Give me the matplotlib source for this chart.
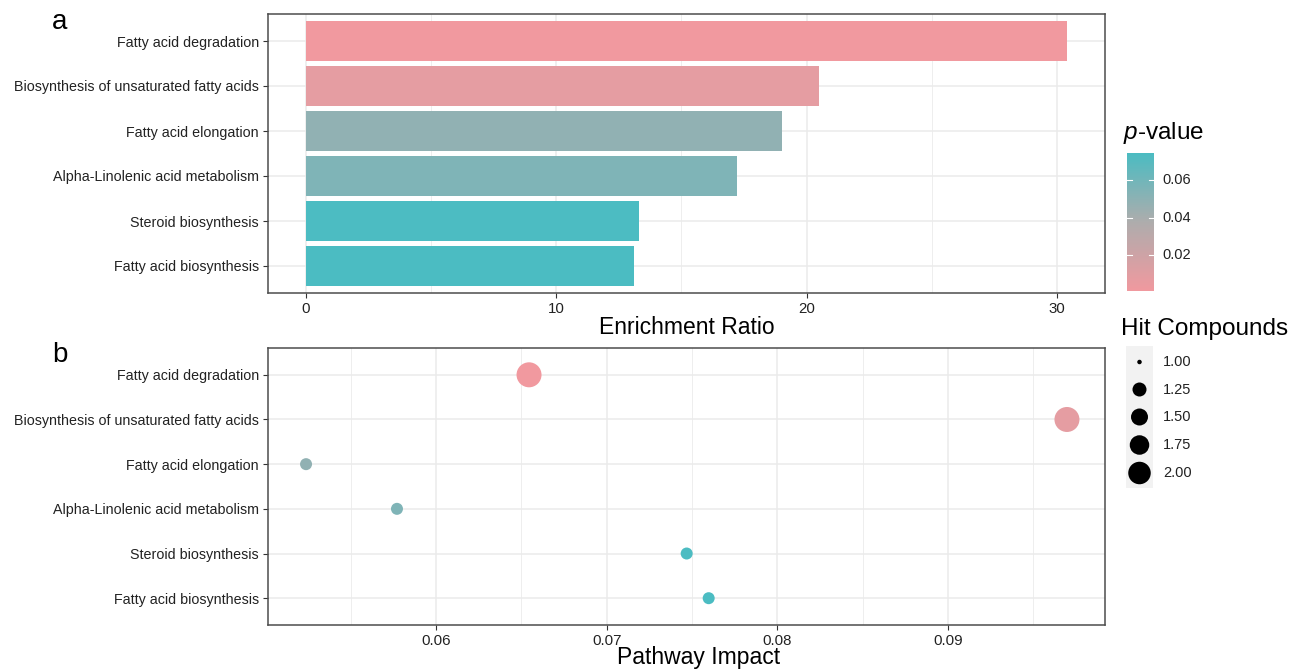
import numpy as np
import matplotlib
matplotlib.use("Agg")
import matplotlib.pyplot as plt
from matplotlib.colors import LinearSegmentedColormap, Normalize

# ---- data ----
pathways = [
    "Fatty acid degradation",
    "Biosynthesis of unsaturated fatty acids",
    "Fatty acid elongation",
    "Alpha-Linolenic acid metabolism",
    "Steroid biosynthesis",
    "Fatty acid biosynthesis",
]
enrichment_ratio = [30.4, 20.5, 19.0, 17.2, 13.3, 13.1]
p_values = [0.0008, 0.0075, 0.0485, 0.0550, 0.0740, 0.0744]
pathway_impact = [0.06545, 0.09698, 0.05238, 0.05771, 0.07469, 0.07598]
hit_compounds = [2, 2, 1, 1, 1, 1]

p_ticks = [0.02, 0.04, 0.06]
size_breaks = [1.00, 1.25, 1.50, 1.75, 2.00]

# ---- styling ----
W, H = 1293, 671
SANS = ["Liberation Sans", "DejaVu Sans"]
GRID = "#EBEBEB"
FRAME = "#4D4D4D"

plt.rcParams["mathtext.fontset"] = "custom"
plt.rcParams["mathtext.rm"] = "Liberation Sans"
plt.rcParams["mathtext.it"] = "Liberation Sans:italic"

cmap = LinearSegmentedColormap.from_list(
    "pval", ["#F1999F", "#AEADAD", "#4BBCC2"])
norm = Normalize(vmin=min(p_values), vmax=max(p_values))


def px_rect(l, t, r, b):
    return [l / W, 1 - b / H, (r - l) / W, (b - t) / H]


def style_axes(ax):
    for s in ax.spines.values():
        s.set_color(FRAME)
        s.set_linewidth(1.1)
    ax.grid(True, which="major", color=GRID, lw=1.1, zorder=0)
    ax.grid(True, which="minor", color=GRID, lw=0.6, zorder=0)
    ax.set_axisbelow(True)
    ax.tick_params(which="major", length=3.5, width=0.8, color="#333333",
                   pad=3)
    ax.tick_params(which="minor", length=0)
    for lab in ax.get_yticklabels():
        lab.set_fontfamily(SANS)
        lab.set_fontsize(10.3)
        lab.set_color("#222222")
    for lab in ax.get_xticklabels():
        lab.set_fontfamily(SANS)
        lab.set_fontsize(10.8)
        lab.set_color("#222222")


fig = plt.figure(figsize=(W / 100, H / 100), dpi=100)
n = len(pathways)
ypos = np.arange(n)

# ---- panel a: enrichment bars ----
ax1 = fig.add_axes(px_rect(268, 14, 1105, 293))
ax1.barh(ypos, enrichment_ratio, height=0.9,
         color=cmap(norm(p_values)), zorder=2)
xmax = max(enrichment_ratio)
ax1.set_xlim(-0.05 * xmax, 1.05 * xmax)
ax1.set_ylim(n - 1 + 0.6, -0.6)
ax1.set_xticks([0, 10, 20, 30])
ax1.set_xticks([5, 15, 25], minor=True)
ax1.set_yticks(ypos, pathways)
style_axes(ax1)
ax1.set_xlabel("Enrichment Ratio", fontsize=16.5, family=SANS, labelpad=0)

# ---- panel b: pathway impact bubbles ----
ax2 = fig.add_axes(px_rect(268, 348, 1105, 625))
diam_px = [12 + 13 * (h - 1) for h in hit_compounds]
ax2.scatter(pathway_impact, ypos, s=[(d * 0.72) ** 2 for d in diam_px],
            c=cmap(norm(p_values)), edgecolors="none", zorder=3)
lo, hi = min(pathway_impact), max(pathway_impact)
span = hi - lo
ax2.set_xlim(lo - 0.05 * span, hi + 0.05 * span)
ax2.set_ylim(n - 1 + 0.6, -0.6)
ax2.set_xticks([0.06, 0.07, 0.08, 0.09], ["0.06", "0.07", "0.08", "0.09"])
ax2.set_xticks([0.055, 0.065, 0.075, 0.085, 0.095], minor=True)
ax2.set_yticks(ypos, pathways)
style_axes(ax2)
ax2.set_xlabel("Pathway Impact", fontsize=16.5, family=SANS, labelpad=1)
ax2.xaxis.set_label_coords(0.515, -0.075)

# panel letters
fig.text(52 / W, 1 - 22 / H, "a", fontsize=20, family=SANS,
         va="center", ha="left")
fig.text(52 / W, 1 - 355 / H, "b", fontsize=20, family=SANS,
         va="center", ha="left")

# ---- colour bar for p-value ----
cax = fig.add_axes(px_rect(1127, 153, 1154, 291))
grad = np.linspace(norm.vmin, norm.vmax, 256).reshape(-1, 1)
cax.imshow(grad, aspect="auto", cmap=cmap, norm=norm, origin="lower",
           extent=[0, 1, norm.vmin, norm.vmax])
cax.set_xlim(0, 1)
cax.set_ylim(norm.vmin, norm.vmax)
cax.set_xticks([])
cax.set_yticks([])
for s in cax.spines.values():
    s.set_visible(False)
for t in p_ticks:
    cax.plot([0, 0.2], [t, t], color="white", lw=0.8)
    cax.plot([0.8, 1], [t, t], color="white", lw=0.8)
    cax.text(1.3, t, f"{t:.2f}", transform=cax.get_yaxis_transform(),
             va="center", ha="left", fontsize=10.5, family=SANS,
             color="#222222")
fig.text(1123 / W, 1 - 133 / H, "$\\it{p}$-value", fontsize=17.5,
         va="center", ha="left", family=SANS)

# ---- size legend for hit compounds ----
fig.text(1121 / W, 1 - 329 / H, "Hit Compounds", fontsize=17.5,
         va="center", ha="left", family=SANS)
lax = fig.add_axes(px_rect(1126, 346, 1153, 488))
lax.set_xlim(1126, 1153)
lax.set_ylim(488, 346)
lax.set_facecolor("#F2F2F2")
lax.set_xticks([])
lax.set_yticks([])
for s in lax.spines.values():
    s.set_visible(False)
key_diam = [4.5, 14, 17, 19.5, 22.5]
key_y = [362, 389.5, 417, 445, 473]
for val, d, yk in zip(size_breaks, key_diam, key_y):
    lax.scatter([1139.5], [yk], s=(d * 0.72) ** 2, color="black",
                edgecolors="none")
    fig.text(1163 / W, 1 - yk / H, f"{val:.2f}", fontsize=10.5,
             va="center", ha="left", family=SANS, color="#222222")

fig.savefig("out.png", dpi=100, facecolor="white")
